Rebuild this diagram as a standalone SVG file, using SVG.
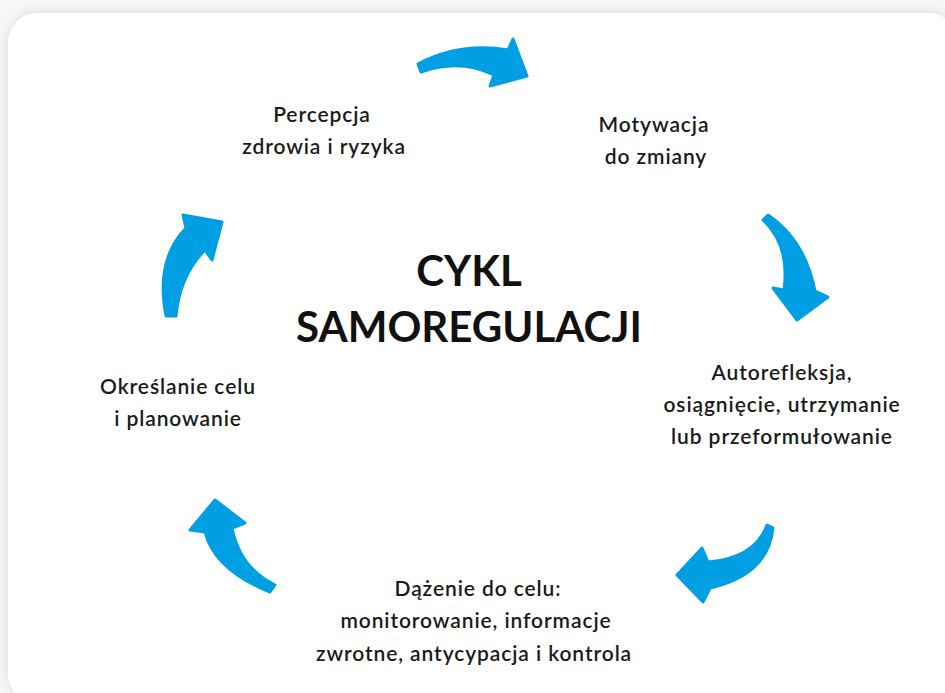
<svg xmlns="http://www.w3.org/2000/svg" width="945" height="693" viewBox="0 0 945 693">
<defs>
<filter id="sh" x="-5%" y="-5%" width="110%" height="110%">
<feDropShadow dx="0" dy="0" stdDeviation="6" flood-color="#000" flood-opacity="0.12"/>
</filter>
<style>
.arrow{fill:#009FE3;stroke:#009FE3;stroke-width:3;stroke-linejoin:round}
.lbl{font-family:Lato,"Open Sans",sans-serif;font-size:21px;font-weight:600;letter-spacing:0.9px;fill:#1a1a1a;text-anchor:middle}
.title{font-family:Lato,"Open Sans",sans-serif;font-size:42px;font-weight:700;fill:#111;text-anchor:middle}
</style>
</defs>
<rect width="945" height="693" fill="#f7f7f7"/>
<rect x="8" y="13" width="950" height="690" rx="30" fill="#fff" filter="url(#sh)"/>
<g id="connectors">
<path class="arrow" d="M418,64 Q460,42 508,50 L513,39 L527,76 L490,86 L494,75 Q460,58 421,72 Z"/>
<path class="arrow" d="M763,220 Q790,245 784,290 L773,288 L797,320 L828,297 L815,291 Q805,240 768,215 Z"/>
<path class="arrow" d="M767,525 Q755,558 708,562 L702,548 L677,575 L703,602 L710,588 Q768,575 773,528 Z"/>
<path class="arrow" d="M270,592 Q215,570 205,532 L190,530 L215,500 L245,523 L232,528 Q240,568 275,585 Z"/>
<path class="arrow" d="M166,316 Q155,260 186,228 L183,215 L222,222 L212,260 L205,250 Q180,275 176,316 Z"/>
</g>
<g id="center"><text class="title" x="469" y="286">CYKL</text><text class="title" x="469" y="342">SAMOREGULACJI</text></g>
<g id="percepcja"><text class="lbl" x="322" y="122">Percepcja</text><text class="lbl" x="324" y="154">zdrowia i ryzyka</text></g>
<g id="motywacja"><text class="lbl" x="654" y="132">Motywacja</text><text class="lbl" x="656" y="164">do zmiany</text></g>
<g id="autorefleksja"><text class="lbl" x="782" y="380">Autorefleksja,</text><text class="lbl" x="782" y="412">osiągnięcie, utrzymanie</text><text class="lbl" x="782" y="444">lub przeformułowanie</text></g>
<g id="dazenie"><text class="lbl" x="478" y="596">Dążenie do celu:</text><text class="lbl" x="476" y="628">monitorowanie, informacje</text><text class="lbl" x="474" y="661">zwrotne, antycypacja i kontrola</text></g>
<g id="okreslanie"><text class="lbl" x="178" y="394">Określanie celu</text><text class="lbl" x="178" y="426">i planowanie</text></g>
</svg>
